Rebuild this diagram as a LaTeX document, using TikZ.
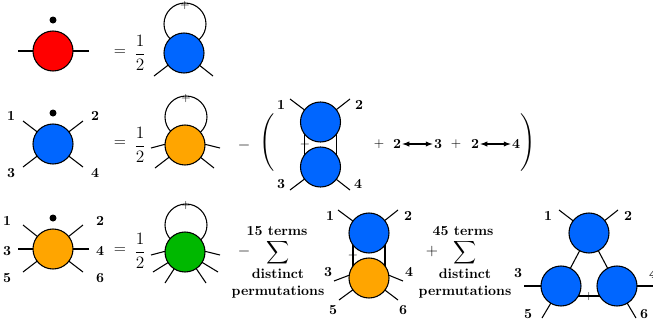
\documentclass[tikz,border=0pt]{standalone}
\usepackage{fix-cm}
\usepackage{exscale}
\definecolor{myred}{HTML}{FF0000}
\definecolor{myblue}{HTML}{0066FF}
\definecolor{myorange}{HTML}{FFA500}
\definecolor{mygreen}{HTML}{00B800}
\begin{document}
\begin{tikzpicture}[x=0.75pt,y=-0.75pt]
\tikzset{ >=latex, inner sep=0pt, outer sep=0pt,
  blob/.style={circle, draw, thick, minimum size=30pt},
  loopnode/.style={circle, draw, thick, minimum size=31.5pt},
  dotnode/.style={circle, fill=black, minimum size=5.25pt},
  tick/.style={font=\small},
  lab/.style={font=\fontsize{10.4}{12}\selectfont\bfseries},
  eqn/.style={font=\large},
  half/.style={font=\fontsize{13}{15}\selectfont},
  bigsum/.style={font=\fontsize{13}{15}\selectfont},
  paren/.style={font=\fontsize{14.4}{16}\selectfont},
}
\useasboundingbox (0,0) rectangle (653,329);

% first row
\node [blob, fill=myred] (R) at (53,51) {};
\node [dotnode] (Rdot) at (53,20) {};
\coordinate (Ra) at (18,51);
\coordinate (Rb) at (89,51);
\draw [thick] (Ra) -- (R);
\draw [thick] (Rb) -- (R);

\node [eqn] (eqA) at (120,53) {$=$};
\node [half] (halfA) at (140,53) {$\displaystyle\frac{1}{2}$};

\node [loopnode] (Aloop) at (185,24) {};
\node [tick] (Atick) at (185,5) {$+$};
\node [blob, fill=myblue] (A) at (184,53) {};
\coordinate (Aa) at (154,76);
\coordinate (Ab) at (213,76);
\draw [thick] (Aa) -- (A);
\draw [thick] (Ab) -- (A);

% second row
\node [blob, fill=myblue] (B) at (53,144) {};
\node [dotnode] (Bdot) at (53,113) {};
\coordinate (Ba) at (23,121);
\coordinate (Bb) at (83,121);
\coordinate (Bc) at (23,167);
\coordinate (Bd) at (83,167);
\draw [thick] (Ba) -- (B);
\draw [thick] (Bb) -- (B);
\draw [thick] (Bc) -- (B);
\draw [thick] (Bd) -- (B);
\node [lab] (B1) at (11,116) {1};
\node [lab] (B2) at (95,116) {2};
\node [lab] (B3) at (11,173) {3};
\node [lab] (B4) at (95,173) {4};

\node [eqn] (eqB) at (120,144) {$=$};
\node [half] (halfB) at (140,145) {$\displaystyle\frac{1}{2}$};

\node [loopnode] (Cloop) at (186,117) {};
\node [tick] (Ctick) at (186,98) {$+$};
\node [blob, fill=myorange] (C) at (185,145) {};
\coordinate (Ca) at (151,148);
\coordinate (Cb) at (220,148);
\coordinate (Cc) at (155,168);
\coordinate (Cd) at (214,168);
\draw [thick] (Ca) -- (C.178);
\draw [thick] (Cb) -- (C.2);
\draw [thick] (Cc) -- (C);
\draw [thick] (Cd) -- (C);

\node [eqn] (minusA) at (244,145) {$-$};
\node [paren] (open) at (268,144) {$\left(\vrule height 20pt depth 20pt width 0pt\right.$};

\node [blob, fill=myblue] (D) at (320.5,122) {};
\node [blob, fill=myblue] (E) at (320.5,167) {};
\draw [thick] (D.217) -- (E.143);
\draw [thick] (D.323) -- (E.37);
\node [tick] (Dtick) at (305,144) {$+$};
\coordinate (Da) at (290,99);
\coordinate (Db) at (350,99);
\coordinate (Ea) at (290,190);
\coordinate (Eb) at (350,190);
\draw [thick] (Da) -- (D);
\draw [thick] (Db) -- (D);
\draw [thick] (Ea) -- (E);
\draw [thick] (Eb) -- (E);
\node [lab] (D1) at (281,105) {1};
\node [lab] (D2) at (359,105) {2};
\node [lab] (E3) at (281,184) {3};
\node [lab] (E4) at (358,184) {4};

\node (plusA) at (379,144) {$+$};
\node [lab] (swapA) at (397,144) {2};
\node [lab] (swapB) at (438,144) {3};
\draw [<->, thick] ([xshift=1pt]swapA.east) -- ([xshift=-1pt]swapB.west);
\node (plusB) at (456,144) {$+$};
\node [lab] (swapC) at (475,144) {2};
\node [lab] (swapD) at (516,144) {4};
\draw [<->, thick] ([xshift=1pt]swapC.east) -- ([xshift=-1pt]swapD.west);
\node [paren] (close) at (527,144) {$\left.\vrule height 20pt depth 20pt width 0pt\right)$};

% third row
\node [blob, fill=myorange] (F) at (53,249) {};
\node [dotnode] (Fdot) at (53,218) {};
\coordinate (Fa) at (23,225);
\coordinate (Fb) at (83,225);
\coordinate (Fc) at (18,249);
\coordinate (Fd) at (89,249);
\coordinate (Fe) at (23,272);
\coordinate (Ff) at (83,272);
\draw [thick] (Fa) -- (F);
\draw [thick] (Fb) -- (F);
\draw [thick] (Fc) -- (F);
\draw [thick] (Fd) -- (F);
\draw [thick] (Fe) -- (F);
\draw [thick] (Ff) -- (F);
\node [lab] (F1) at (7,221) {1};
\node [lab] (F2) at (100,221) {2};
\node [lab] (F3) at (7,251) {3};
\node [lab] (F4) at (100,251) {4};
\node [lab] (F5) at (7,278) {5};
\node [lab] (F6) at (100,278) {6};

\node [eqn] (eqC) at (120,251) {$=$};
\node [half] (halfC) at (140,251) {$\displaystyle\frac{1}{2}$};

\node [loopnode] (Gloop) at (186,225) {};
\node [tick] (Gtick) at (186,205) {$+$};
\node [blob, fill=mygreen] (G) at (185,252) {};
\coordinate (Ga) at (151,255);
\coordinate (Gb) at (220,255);
\coordinate (Gc) at (153,272);
\coordinate (Gd) at (218,272);
\coordinate (Ge) at (165,283);
\coordinate (Gf) at (206,283);
\draw [thick] (Ga) -- (G.178);
\draw [thick] (Gb) -- (G.2);
\draw [thick] (Gc) -- (G);
\draw [thick] (Gd) -- (G);
\draw [thick] (Ge) -- (G);
\draw [thick] (Gf) -- (G);

\node [eqn] (minusB) at (244,251) {$-$};
\node [bigsum] (sumA) at (278,252.5) {$\displaystyle\sum$};
\node [lab] (termsA) at (277,231) {15 terms};
\node [lab] (distA) at (278,274) {distinct};
\node [lab] (permA) at (278,292) {permutations};

\node [blob, fill=myblue] (H) at (369,233) {};
\node [blob, fill=myorange] (I) at (369,278) {};
\draw [thick] (H.217) -- (I.143);
\draw [thick] (H.323) -- (I.37);
\node [tick] (Htick) at (353,255) {$+$};
\coordinate (Ha) at (338,210);
\coordinate (Hb) at (398,210);
\coordinate (Ia) at (334,281);
\coordinate (Ib) at (403,281);
\coordinate (Ic) at (339,300);
\coordinate (Id) at (398,300);
\draw [thick] (Ha) -- (H);
\draw [thick] (Hb) -- (H);
\draw [thick] (Ia) -- (I.172);
\draw [thick] (Ib) -- (I.8);
\draw [thick] (Ic) -- (I);
\draw [thick] (Id) -- (I);
\node [lab] (H1) at (330,216) {1};
\node [lab] (H2) at (408,216) {2};
\node [lab] (I3) at (328,272) {3};
\node [lab] (I4) at (409,272) {4};
\node [lab] (I5) at (333,310) {5};
\node [lab] (I6) at (403,310) {6};

\node [eqn] (plusC) at (432,251) {$+$};
\node [bigsum] (sumB) at (465,252.5) {$\displaystyle\sum$};
\node [lab] (termsB) at (463,231) {45 terms};
\node [lab] (distB) at (465,274) {distinct};
\node [lab] (permB) at (465,292) {permutations};

\node [blob, fill=myblue] (T) at (589,233) {};
\node [blob, fill=myblue] (L) at (561,286) {};
\node [blob, fill=myblue] (Q) at (617,286) {};
\draw [thick] (T) -- (L);
\draw [thick] (T) -- (Q);
\draw [thick] (L.-30) -- (Q.210);
\node [tick] (Ltick) at (589,296) {$+$};
\coordinate (Ta) at (559,210);
\coordinate (Tb) at (618,210);
\coordinate (La) at (524,286);
\coordinate (Lb) at (542,318);
\coordinate (Qa) at (653,286);
\coordinate (Qb) at (636,318);
\draw [thick] (Ta) -- (T);
\draw [thick] (Tb) -- (T);
\draw [thick] (La) -- (L);
\draw [thick] (Lb) -- (L);
\draw [thick] (Qa) -- (Q);
\draw [thick] (Qb) -- (Q);
\node [lab] (T1) at (548,216) {1};
\node [lab] (T2) at (628,216) {2};
\node [lab] (L3) at (518,273) {3};
\node [lab] (Q4) at (653,274) {4};
\node [lab] (L5) at (528,314) {5};
\node [lab] (Q6) at (644,314) {6};

\end{tikzpicture}
\end{document}
